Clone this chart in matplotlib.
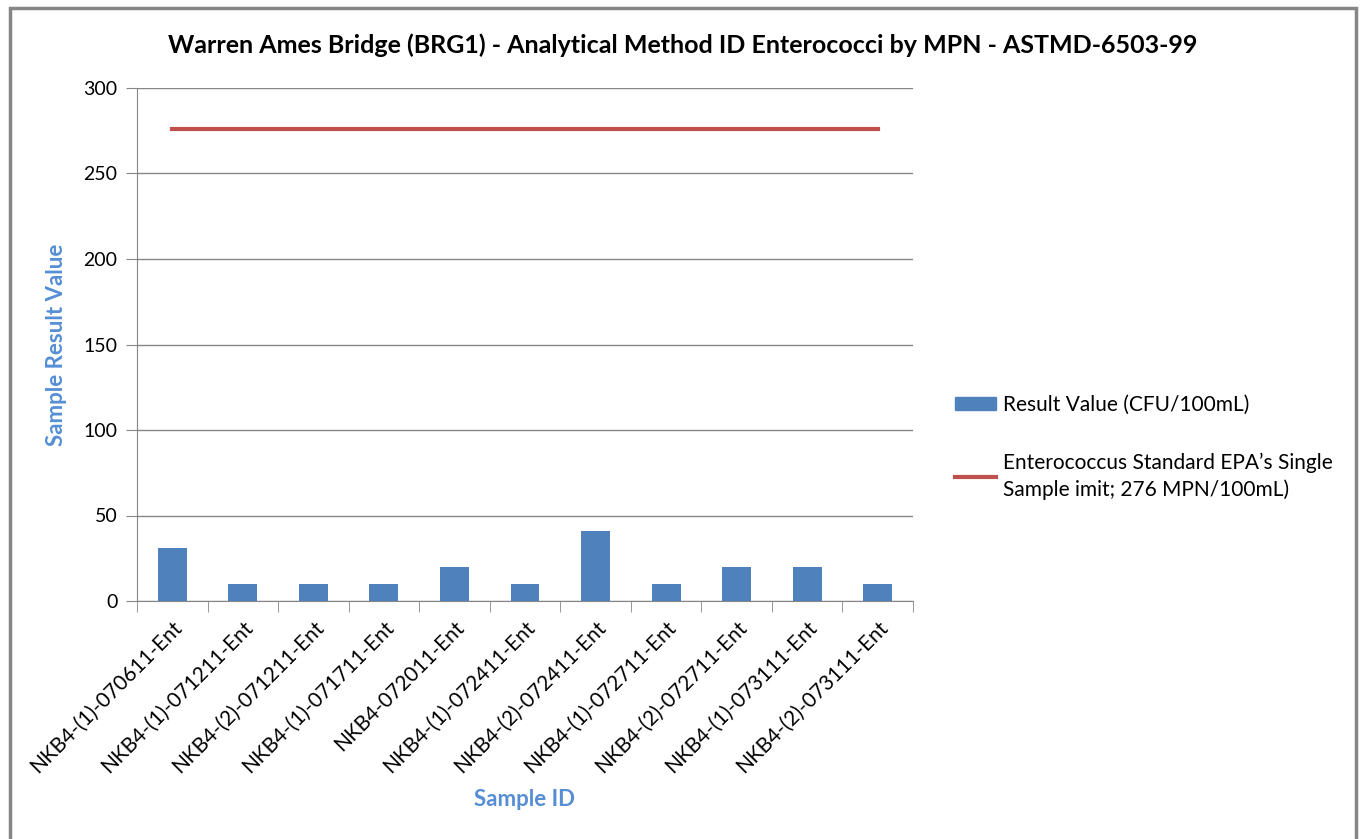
import matplotlib.pyplot as plt
from matplotlib.patches import Rectangle
from matplotlib.lines import Line2D
import numpy as np

plt.rcParams['font.family'] = ['Lato', 'DejaVu Sans']

sample_ids = ['NKB4-(1)-070611-Ent', 'NKB4-(1)-071211-Ent', 'NKB4-(2)-071211-Ent',
              'NKB4-(1)-071711-Ent', 'NKB4-072011-Ent', 'NKB4-(1)-072411-Ent',
              'NKB4-(2)-072411-Ent', 'NKB4-(1)-072711-Ent', 'NKB4-(2)-072711-Ent',
              'NKB4-(1)-073111-Ent', 'NKB4-(2)-073111-Ent']
result_values = [31, 10, 10, 10, 20, 10, 41, 10, 20, 20, 10]
epa_limit = [276] * len(sample_ids)
y_ticks = [0, 50, 100, 150, 200, 250, 300]

fig = plt.figure(figsize=(13.62, 8.39), dpi=100)
ax = fig.add_axes([137 / 1362, 1 - 601 / 839, 776 / 1362, 513 / 839])

x = np.arange(len(sample_ids))
bars = ax.bar(x, result_values, width=0.41, color='#4F81BD', zorder=3)
line, = ax.plot(x, epa_limit, color='#C0504D', linewidth=3, zorder=4)

ax.set_xlim(-0.5, len(sample_ids) - 0.5)
ax.set_ylim(0, 300)
ax.set_yticks(y_ticks)
ax.set_yticklabels([str(v) for v in y_ticks], fontsize=14)
ax.yaxis.grid(True, color='#868686', linewidth=1, zorder=0)
ax.tick_params(axis='y', length=8, color='#868686', pad=6)

# category labels at centres, tick marks on the boundaries
ax.set_xticks(x)
ax.set_xticklabels(sample_ids, rotation=45, ha='right', va='top',
                   rotation_mode='anchor', fontsize=15)
ax.tick_params(axis='x', which='major', length=0, pad=12)
ax.set_xticks(np.arange(-0.5, len(sample_ids)), minor=True)
ax.tick_params(axis='x', which='minor', length=8, color='#868686')

for side in ['top', 'right']:
    ax.spines[side].set_visible(False)
for side in ['left', 'bottom']:
    ax.spines[side].set_color('#868686')

ax.set_ylabel('Sample Result Value', fontsize=16, fontweight='bold',
              color='#558ED5', labelpad=12)
fig.text(525 / 1362, 1 - 800 / 839, 'Sample ID', fontsize=16, fontweight='bold',
         color='#558ED5', ha='center', va='center')
fig.text(683 / 1362, 1 - 45 / 839,
         'Warren Ames Bridge (BRG1) - Analytical Method ID Enterococci by MPN - ASTMD-6503-99',
         fontsize=18, fontweight='bold', ha='center', va='center')

leg = fig.legend([Rectangle((0, 0), 1, 1, color='#4F81BD'),
                  Line2D([], [], color='#C0504D', linewidth=3)],
                 ['Result Value (CFU/100mL)',
                  'Enterococcus Standard EPA\u2019s Single\nSample imit; 276 MPN/100mL)'],
                 loc='upper left', bbox_to_anchor=(936 / 1362, 1 - 376 / 839),
                 frameon=False, fontsize=15, handlelength=2.0, handleheight=0.6,
                 labelspacing=1.8, handletextpad=0.3)
for t in leg.get_texts():
    t.set_linespacing(1.4)

fig.patches.append(Rectangle((10 / 1362, -0.05), 1346 / 1362, 1 - 8 / 839 + 0.05,
                             transform=fig.transFigure, fill=False,
                             edgecolor='#868686', linewidth=2.5))

fig.savefig('out.png', dpi=100)
